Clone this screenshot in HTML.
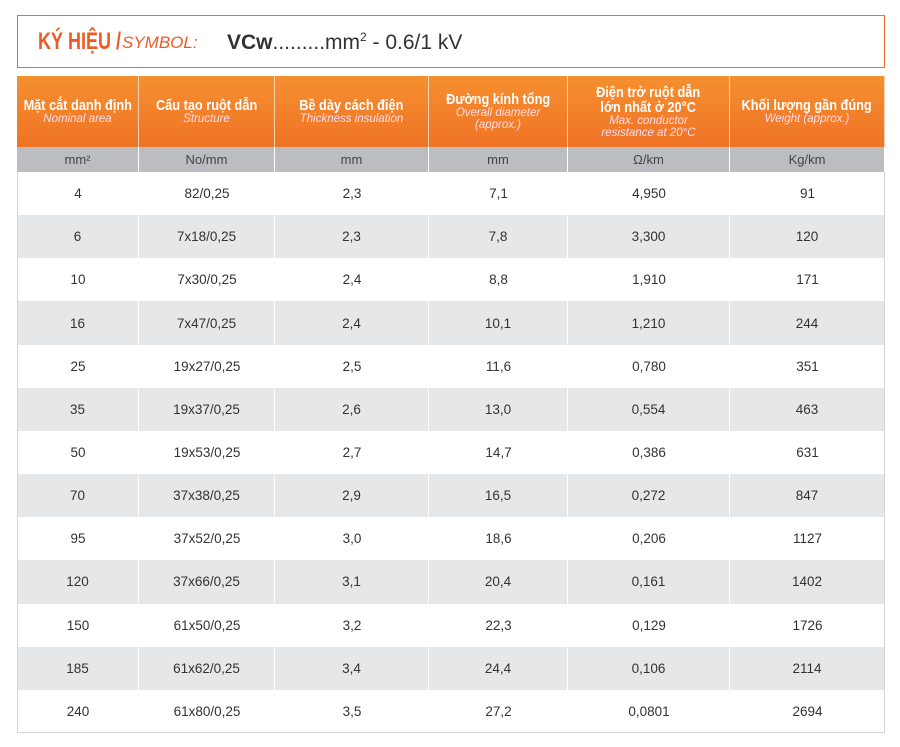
<!DOCTYPE html>
<html><head><meta charset="utf-8"><style>
body{margin:0;width:900px;height:747px;background:#fff;position:relative;font-family:"Liberation Sans",sans-serif;overflow:hidden}
#title{position:absolute;left:17px;top:15px;width:868px;height:53px;border:1.5px solid #ee6a2d;box-sizing:border-box}
#title span{position:absolute;top:13px;white-space:nowrap}
.cell{position:absolute;display:flex;flex-direction:column;align-items:center;justify-content:center;text-align:center;box-sizing:border-box}
.h{color:#fff;background:linear-gradient(#f5902f,#f07326);border-right:1px solid #fbd3b3}
.h b{font-family:"Liberation Sans Narrow","Liberation Sans",sans-serif;font-size:15px;line-height:15px;white-space:nowrap;transform:scaleX(.85)}
.h i{font-size:11.5px;line-height:12px;color:#fde;white-space:nowrap}
.u{background:#bcbdc0;color:#444;font-size:13px;border-right:1px solid #fff}
.d{color:#333;font-size:13.5px}
.g{background:#e6e7e8;border-right:1px solid #fff}
</style></head><body>
<div id="title">
<span style="left:20px;top:12px;color:#ee5a24;font-size:24px;font-weight:bold;transform:scaleX(.75);transform-origin:left">KÝ HIỆU /</span>
<span style="left:104px;top:17px;color:#ee5a24;font-size:17px;font-style:italic">SYMBOL:</span>
<span style="left:209px;top:14px;color:#333;font-size:21px"><b>VCw</b>.........mm<sup style="font-size:12px">2</sup> - 0.6/1 kV</span>
</div>
<div id="tbl"></div>
<div style="position:absolute;left:17px;top:172px;width:868px;height:561px;border:1px solid #d4d4d4;border-top:none;box-sizing:border-box;pointer-events:none"></div>
<script>
const cols=[17,139,275,429,568,730,885];
const headVn=["Mặt cắt danh định","Cấu tạo ruột dẫn","Bề dày cách điện","Đường kính tổng","Điện trở ruột dẫn<br>lớn nhất ở 20°C","Khối lượng gần đúng"];
const headEn=["Nominal area","Structure","Thickness insulation","Overall diameter<br>(approx.)","Max. conductor<br>resistance at 20°C","Weight (approx.)"];
const units=["mm²","No/mm","mm","mm","Ω/km","Kg/km"];
const area=["4","6","10","16","25","35","50","70","95","120","150","185","240"];
const structure=["82/0,25","7x18/0,25","7x30/0,25","7x47/0,25","19x27/0,25","19x37/0,25","19x53/0,25","37x38/0,25","37x52/0,25","37x66/0,25","61x50/0,25","61x62/0,25","61x80/0,25"];
const thick=["2,3","2,3","2,4","2,4","2,5","2,6","2,7","2,9","3,0","3,1","3,2","3,4","3,5"];
const diam=["7,1","7,8","8,8","10,1","11,6","13,0","14,7","16,5","18,6","20,4","22,3","24,4","27,2"];
const resist=["4,950","3,300","1,910","1,210","0,780","0,554","0,386","0,272","0,206","0,161","0,129","0,106","0,0801"];
const weight=["91","120","171","244","351","463","631","847","1127","1402","1726","2114","2694"];
const t=document.getElementById('tbl');
function mk(cls,x,y,w,h,html){const e=document.createElement('div');e.className='cell '+cls;e.style.cssText=`left:${x}px;top:${y}px;width:${w}px;height:${h}px`;e.innerHTML=html;t.appendChild(e);return e;}
for(let c=0;c<6;c++){
 const w=cols[c+1]-cols[c];
 const h=mk('h',cols[c],76,w,71,`<b>${headVn[c]}</b><i>${headEn[c]}</i>`);
 
 
 const u=mk('u',cols[c],147,w,25,units[c]);
 
 
}
const data=[area,structure,thick,diam,resist,weight];
const rh=561/13;
for(let r=0;r<area.length;r++){
 const y=172+r*rh;
 for(let c=0;c<6;c++){
  const e=mk('d'+(r%2?' g':''),cols[c],y,cols[c+1]-cols[c],rh,data[c][r]);
  
  
 }
}
</script>
</body></html>
